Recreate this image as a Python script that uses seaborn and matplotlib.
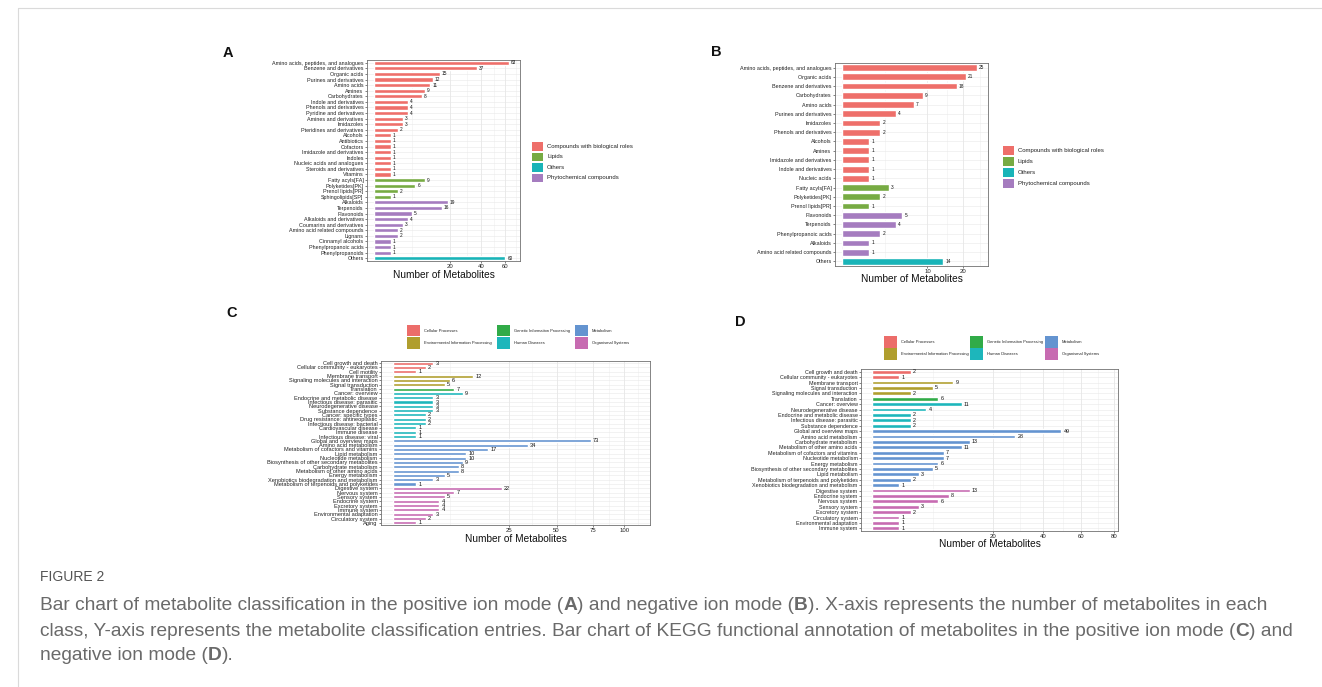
"""
Figure 2 recreation: metabolite classification (A, B) and KEGG annotation (C, D)
bar charts on a square-root x axis, with the figure caption underneath.
"""

import numpy as np
import pandas as pd
import matplotlib
matplotlib.use("Agg")
import matplotlib.pyplot as plt
from matplotlib.patches import Rectangle
from matplotlib.lines import Line2D
from matplotlib.ticker import NullFormatter
import seaborn as sns

# ===============================
# Data: panel A (positive ion mode)
# ===============================
A_CLASSES = [
    "Amino acids, peptides, and analogues", "Benzene and derivatives", "Organic acids",
    "Purines and derivatives", "Amino acids", "Amines", "Carbohydrates",
    "Indole and derivatives", "Phenols and derivatives", "Pyridine and derivatives",
    "Amines and derivatives", "Imidazoles", "Pteridines and derivatives", "Alcohols",
    "Antibiotics", "Cofactors", "Imidazole and derivatives", "Indoles",
    "Nucleic acids and analogues", "Steroids and derivatives", "Vitamins",
    "Fatty acyls[FA]", "Polyketides[PK]", "Prenol lipids[PR]", "Sphingolipids[SP]",
    "Alkaloids", "Terpenoids", "Flavonoids", "Alkaloids and derivatives",
    "Coumarins and derivatives", "Amino acid related compounds", "Lignans",
    "Cinnamyl alcohols", "Phenylpropanoic acids", "Phenylpropanoids", "Others",
]
A_COUNTS = [63, 37, 15, 12, 11, 9, 8, 4, 4, 4, 3, 3, 2, 1, 1, 1, 1, 1, 1, 1, 1,
            9, 6, 2, 1,
            19, 16, 5, 4, 3, 2, 2, 1, 1, 1,
            60]
A_GROUPS = (["Compounds with biological roles"] * 21 + ["Lipids"] * 4
            + ["Phytochemical compounds"] * 10 + ["Others"])

# ===============================
# Data: panel B (negative ion mode)
# ===============================
B_CLASSES = [
    "Amino acids, peptides, and analogues", "Organic acids", "Benzene and derivatives",
    "Carbohydrates", "Amino acids", "Purines and derivatives", "Imidazoles",
    "Phenols and derivatives", "Alcohols", "Amines", "Imidazole and derivatives",
    "Indole and derivatives", "Nucleic acids",
    "Fatty acyls[FA]", "Polyketides[PK]", "Prenol lipids[PR]",
    "Flavonoids", "Terpenoids", "Phenylpropanoic acids", "Alkaloids",
    "Amino acid related compounds", "Others",
]
B_COUNTS = [25, 21, 18, 9, 7, 4, 2, 2, 1, 1, 1, 1, 1,
            3, 2, 1,
            5, 4, 2, 1, 1,
            14]
B_GROUPS = (["Compounds with biological roles"] * 13 + ["Lipids"] * 3
            + ["Phytochemical compounds"] * 5 + ["Others"])

# ===============================
# Data: panel C (KEGG, positive ion mode)
# ===============================
C_PATHWAYS = [
    "Cell growth and death", "Cellular community - eukaryotes", "Cell motility",
    "Membrane transport", "Signaling molecules and interaction", "Signal transduction",
    "Translation",
    "Cancer: overview", "Endocrine and metabolic disease", "Infectious disease: parasitic",
    "Neurodegenerative disease", "Substance dependence", "Cancer: specific types",
    "Drug resistance: antineoplastic", "Infectious disease: bacterial",
    "Cardiovascular disease", "Immune disease", "Infectious disease: viral",
    "Global and overview maps", "Amino acid metabolism",
    "Metabolism of cofactors and vitamins", "Lipid metabolism", "Nucleotide metabolism",
    "Biosynthesis of other secondary metabolites", "Carbohydrate metabolism",
    "Metabolism of other amino acids", "Energy metabolism",
    "Xenobiotics biodegradation and metabolism", "Metabolism of terpenoids and polyketides",
    "Digestive system", "Nervous system", "Sensory system", "Endocrine system",
    "Excretory system", "Immune system", "Environmental adaptation",
    "Circulatory system", "Aging",
]
C_COUNTS = [3, 2, 1,
            12, 6, 5,
            7,
            9, 3, 3, 3, 3, 2, 2, 2, 1, 1, 1,
            73, 34, 17, 10, 10, 9, 8, 8, 5, 3, 1,
            22, 7, 5, 4, 4, 4, 3, 2, 1]
C_GROUPS = (["Cellular Processes"] * 3 + ["Environmental Information Processing"] * 3
            + ["Genetic Information Processing"] * 1 + ["Human Diseases"] * 11
            + ["Metabolism"] * 11 + ["Organismal Systems"] * 9)

# ===============================
# Data: panel D (KEGG, negative ion mode)
# ===============================
D_PATHWAYS = [
    "Cell growth and death", "Cellular community - eukaryotes",
    "Membrane transport", "Signal transduction", "Signaling molecules and interaction",
    "Translation",
    "Cancer: overview", "Neurodegenerative disease", "Endocrine and metabolic disease",
    "Infectious disease: parasitic", "Substance dependence",
    "Global and overview maps", "Amino acid metabolism", "Carbohydrate metabolism",
    "Metabolism of other amino acids", "Metabolism of cofactors and vitamins",
    "Nucleotide metabolism", "Energy metabolism",
    "Biosynthesis of other secondary metabolites", "Lipid metabolism",
    "Metabolism of terpenoids and polyketides", "Xenobiotics biodegradation and metabolism",
    "Digestive system", "Endocrine system", "Nervous system", "Sensory system",
    "Excretory system", "Circulatory system", "Environmental adaptation", "Immune system",
]
D_COUNTS = [2, 1,
            9, 5, 2,
            6,
            11, 4, 2, 2, 2,
            49, 28, 13, 11, 7, 7, 6, 5, 3, 2, 1,
            13, 8, 6, 3, 2, 1, 1, 1]
D_GROUPS = (["Cellular Processes"] * 2 + ["Environmental Information Processing"] * 3
            + ["Genetic Information Processing"] * 1 + ["Human Diseases"] * 5
            + ["Metabolism"] * 11 + ["Organismal Systems"] * 8)

CLASS_COLORS = {
    "Compounds with biological roles": "#EE6F6A",
    "Lipids": "#77AB43",
    "Others": "#19B4B8",
    "Phytochemical compounds": "#A57CBF",
}
KEGG_COLORS = {
    "Cellular Processes": "#EC6D6A",
    "Environmental Information Processing": "#B09E2E",
    "Genetic Information Processing": "#31AB48",
    "Human Diseases": "#1DB6BB",
    "Metabolism": "#6494D0",
    "Organismal Systems": "#C76BB1",
}

CAPTION_LINES = [
    [("Bar chart of metabolite classification in the positive ion mode (", False), ("A", True),
     (") and negative ion mode (", False), ("B", True),
     ("). X-axis represents the number of metabolites in each", False)],
    [("class, Y-axis represents the metabolite classification entries. Bar chart of KEGG "
      "functional annotation of metabolites in the positive ion mode (", False), ("C", True),
     (") and", False)],
    [("negative ion mode (", False), ("D", True), (").", False)],
]

# ===============================
# Style
# ===============================
sns.set_theme(style="white")
plt.rcParams["font.family"] = ["Liberation Sans", "DejaVu Sans"]
CAPTION_FONT = ["Liberation Sans Narrow", "Liberation Sans", "DejaVu Sans"]

W, H = 1322, 687
fig = plt.figure(figsize=(W / 100, H / 100), dpi=100)
fig.patch.set_facecolor("white")


def px(x):
    return x / W


def py(y):
    return 1 - y / H


def rect(left, top, right, bottom):
    return [px(left), py(bottom), (right - left) / W, (bottom - top) / H]


def fwd(x):
    return np.sign(x) * np.sqrt(np.abs(x))


def inv(y):
    return np.sign(y) * y ** 2


def draw_panel(box, names, counts, groups, palette, xlim, ticks, minors,
               value_fs=3.4, width=0.74, label_fs=3.9):
    ax = fig.add_axes(rect(*box))
    df = pd.DataFrame({"name": names, "count": counts, "group": groups})
    sns.barplot(data=df, x="count", y="name", hue="group", palette=palette,
                dodge=False, legend=False, width=width, saturation=1, ax=ax)
    ax.set_xscale("function", functions=(fwd, inv))
    ax.set_xlim(*xlim)
    ax.set_xticks(ticks)
    ax.set_xticks(minors, minor=True)
    ax.xaxis.set_minor_formatter(NullFormatter())
    ax.set_xticklabels([str(t) for t in ticks])
    ax.grid(True, which="major", axis="x", color="#E2E2E2", lw=0.5)
    ax.grid(True, which="minor", axis="x", color="#EFEFEF", lw=0.4)
    ax.grid(True, which="major", axis="y", color="#E8E8E8", lw=0.4)
    ax.set_axisbelow(True)
    ax.tick_params(axis="y", labelsize=label_fs, length=1.5, width=0.4, pad=1,
                   colors="#222222", left=True)
    ax.tick_params(axis="x", which="major", labelsize=4.3, length=1.5, width=0.4,
                   pad=1, colors="#222222", bottom=True)
    ax.tick_params(axis="x", which="minor", length=0)
    for c in ax.containers:
        ax.bar_label(c, fmt="%g", fontsize=value_fs, padding=1.5, color="#111111")
    for sp in ax.spines.values():
        sp.set_visible(True)
        sp.set_color("#707070")
        sp.set_linewidth(0.6)
    ax.set_xlabel("")
    ax.set_ylabel("")
    return ax


def draw_key(x, y, w, h, color, label, fs, gap):
    fig.add_artist(Rectangle((px(x), py(y + h)), w / W, h / H, facecolor=color,
                             edgecolor="none", transform=fig.transFigure))
    fig.text(px(x + w + gap), py(y + h / 2), label, fontsize=fs, va="center",
             ha="left", color="#222222")


# ===============================
# Panels
# ===============================
draw_panel((367, 60, 520, 261), A_CLASSES, A_COUNTS, A_GROUPS, CLASS_COLORS,
           (-0.152, 74), [20, 40, 60], [0, 5, 30, 50, 70])
draw_panel((835, 63, 988, 266), B_CLASSES, B_COUNTS, B_GROUPS, CLASS_COLORS,
           (-0.068, 29.2), [10, 20], [0, 2.5, 15, 26])
draw_panel((381, 361, 650, 525), C_PATHWAYS, C_COUNTS, C_GROUPS, KEGG_COLORS,
           (-0.28, 123.5), [25, 50, 75, 100], [0, 6, 36, 62, 87, 112],
           value_fs=4.0, width=0.7, label_fs=4.1)
draw_panel((861, 369, 1118, 531), D_PATHWAYS, D_COUNTS, D_GROUPS, KEGG_COLORS,
           (-0.176, 82.8), [20, 40, 60, 80], [0, 5, 30, 50, 70], value_fs=3.9, width=0.7)

# axis titles
for cx, cy in [(443.5, 275), (911.5, 279), (515.5, 539), (989.5, 544)]:
    fig.text(px(cx), py(cy), "Number of Metabolites", fontsize=7.3, ha="center",
             va="center", color="#111111")

# panel letters
for letter, lx, ly in [("A", 228, 53), ("B", 716, 52), ("C", 232, 313), ("D", 740, 322)]:
    fig.text(px(lx), py(ly), letter, fontsize=10.5, fontweight="bold", ha="center",
             va="center", color="#111111")

# legends for A and B
for lx, ly, step, h in [(532, 142, 10.5, 8.5), (1003, 146, 11, 9)]:
    for i, (name, col) in enumerate(CLASS_COLORS.items()):
        draw_key(lx, ly + i * step, 11, h, col, name, 4.3, 4)

# legends for C and D (3 columns, 2 rows)
for x0s, y0 in [((407, 497, 575), 325), ((884, 970, 1045), 336)]:
    for i, (name, col) in enumerate(KEGG_COLORS.items()):
        draw_key(x0s[i // 2], y0 + (i % 2) * 12, 13, 11.5, col, name, 2.9, 4)

# frame lines of the page
fig.add_artist(Line2D([px(18), 1], [py(8), py(8)], color="#DADADA", lw=0.8,
                      transform=fig.transFigure))
fig.add_artist(Line2D([px(18), px(18)], [py(8), 0], color="#DADADA", lw=0.8,
                      transform=fig.transFigure))

# ===============================
# Caption
# ===============================
renderer = fig.canvas.get_renderer()
fig.text(px(40), py(577), "FIGURE 2", fontsize=10, color="#555555", va="center",
         family=CAPTION_FONT)


def rich_line(x, y, parts, size):
    texts = []
    for s, bold in parts:
        t = fig.text(x, y, s, fontsize=size, fontweight="bold" if bold else "normal",
                     color="#6A6A6A", va="center", ha="left", family=CAPTION_FONT)
        x += t.get_window_extent(renderer).width / fig.bbox.width
        texts.append(t)
    return texts, x


# fit the caption size so the two long lines end where the reference lines end
scales = []
for line in CAPTION_LINES[:2]:
    probe, end = rich_line(px(40), py(606), line, 12)
    scales.append((1262 / W) / (end - px(40)))
    for t in probe:
        t.remove()
cap_size = 12 * min(scales)
for line, yy in zip(CAPTION_LINES, [606, 631, 656]):
    rich_line(px(40), py(yy), line, cap_size)

fig.savefig("out.png", dpi=100, facecolor="white")
